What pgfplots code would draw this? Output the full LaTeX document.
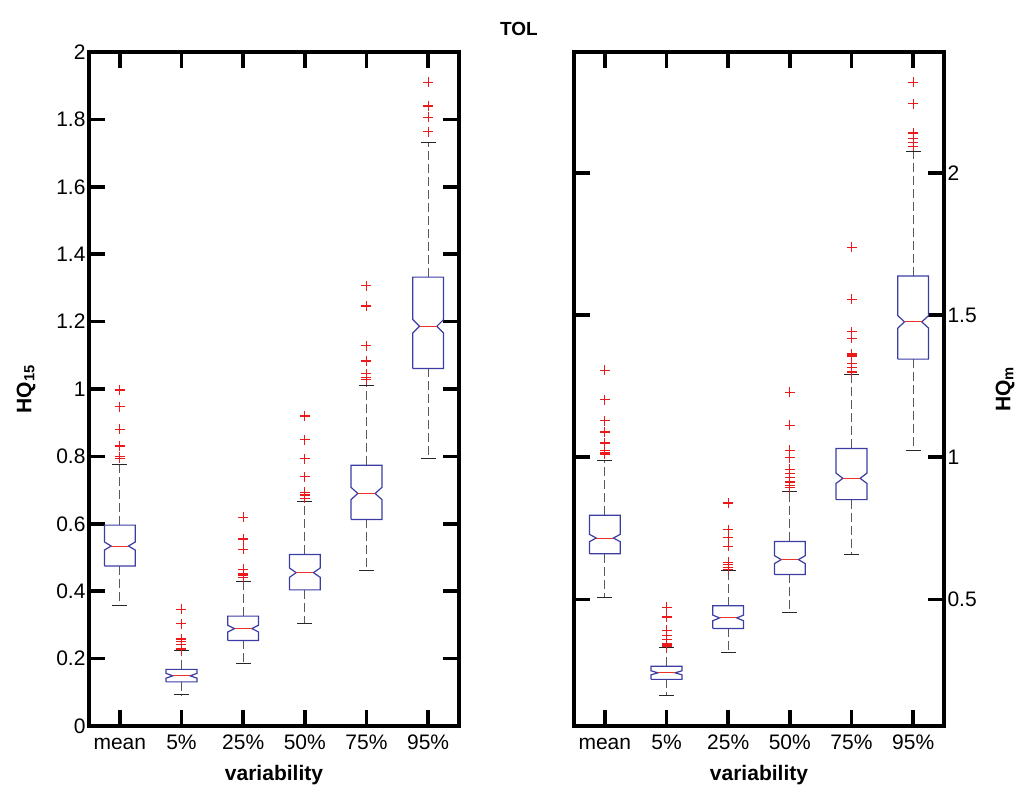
\documentclass[border=0pt]{standalone}
\usepackage{fontspec}
\setmainfont{Liberation Sans}
\usepackage{pgfplots}
\pgfplotsset{compat=1.18}
\definecolor{boxc}{RGB}{60,60,165}
\definecolor{medc}{RGB}{235,50,40}
\definecolor{outc}{RGB}{235,25,25}
\newcommand\nbox[7]{% x, lower whisker, q1, median, q3, upper whisker, notch
 \pgfmathsetmacro\xa{#1-0.25}\pgfmathsetmacro\xb{#1+0.25}%
 \pgfmathsetmacro\xn{#1-0.14}\pgfmathsetmacro\xm{#1+0.14}%
 \pgfmathsetmacro\nlo{#4-#7}\pgfmathsetmacro\nhi{#4+#7}%
 \pgfmathsetmacro\ca{#1-0.12}\pgfmathsetmacro\cb{#1+0.12}%
 \edef\temp{%
 \noexpand\addplot[whisk] coordinates {(#1,#5) (#1,#6)};
 \noexpand\addplot[whisk] coordinates {(#1,#3) (#1,#2)};
 \noexpand\addplot[capst] coordinates {(\ca,#6) (\cb,#6)};
 \noexpand\addplot[capst] coordinates {(\ca,#2) (\cb,#2)};
 \noexpand\addplot[boxst] coordinates {(\xa,#3) (\xb,#3) (\xb,\nlo) (\xm,#4) (\xb,\nhi) (\xb,#5) (\xa,#5) (\xa,\nhi) (\xn,#4) (\xa,\nlo) (\xa,#3)};
 \noexpand\addplot[medst] coordinates {(\xn,#4) (\xm,#4)};
 }\temp}
\pgfplotsset{
 whisk/.style={black!65, line width=1pt, dash pattern=on 9pt off 4pt, mark=none},
 capst/.style={black!85, line width=1pt, mark=none},
 boxst/.style={boxc, line width=1.2pt, mark=none},
 medst/.style={medc, line width=1pt, mark=none},
 outst/.style={only marks, mark=+, mark size=5pt, draw=outc, color=outc, mark options={solid, draw=outc, line width=1.2pt}},
 panel/.style={
  scale only axis, width=370pt, height=674pt,
  xmin=0.5, xmax=6.5,
  xtick={1,2,3,4,5,6},
  xticklabels={mean,5\%,25\%,50\%,75\%,95\%},
  tick pos=both, tick align=inside,
  major tick length=16pt,
  every tick/.append style={black, line width=3.5pt},
  axis line style={line width=3.5pt},
  tick label style={font=\fontsize{21}{25}\selectfont},
  xticklabel style={text height=15pt, text depth=5pt, yshift=-5pt},
  /pgf/number format/assume math mode=true,
  xlabel={variability},
  xlabel style={font=\fontsize{21}{25}\selectfont\bfseries, yshift=-4pt},
  ylabel style={font=\fontsize{21}{25}\selectfont\bfseries, anchor=center},
  clip=false,
 },
}
\begin{document}
\begin{tikzpicture}
\path[use as bounding box] (0pt,0pt) rectangle (1026pt,790pt);
\node[font=\fontsize{19}{23}\selectfont\bfseries] at (519pt,761pt) {TOL};
% left panel
\begin{axis}[panel, at={(89pt,64pt)}, anchor=south west,
  ymin=0, ymax=2, ytick={0,0.2,0.4,0.6,0.8,1,1.2,1.4,1.6,1.8,2},
  ylabel={HQ\textsubscript{15}},
  ylabel style={at={(axis description cs:-0.170,0.5)}}]
\nbox{1}{0.359}{0.475}{0.534}{0.596}{0.776}{0.012}
\nbox{2}{0.092}{0.131}{0.149}{0.168}{0.225}{0.007}
\nbox{3}{0.185}{0.254}{0.289}{0.326}{0.428}{0.010}
\nbox{4}{0.303}{0.404}{0.455}{0.509}{0.666}{0.014}
\nbox{5}{0.461}{0.613}{0.690}{0.774}{1.009}{0.018}
\nbox{6}{0.793}{1.061}{1.186}{1.332}{1.731}{0.020}
\addplot[outst] coordinates {
 (1,0.997) (1,0.948) (1,0.880) (1,0.831) (1,0.799) (1,0.794)
 (2,0.346) (2,0.303) (2,0.258) (2,0.250) (2,0.243) (2,0.230) (2,0.226)
 (3,0.619) (3,0.555) (3,0.524) (3,0.465) (3,0.453) (3,0.448) (3,0.441)
 (4,0.920) (4,0.849) (4,0.793) (4,0.740) (4,0.693) (4,0.688) (4,0.683) (4,0.676)
 (5,1.307) (5,1.246) (5,1.128) (5,1.083) (5,1.045) (5,1.035) (5,1.027)
 (6,1.910) (6,1.840) (6,1.806) (6,1.764)
};
\end{axis}
% right panel
\begin{axis}[panel, at={(574pt,64pt)}, anchor=south west,
  ymin=0.055, ymax=2.425, ytick={0.5,1,1.5,2},
  yticklabel pos=right,
  ylabel={HQ\textsubscript{m}},
  ylabel style={at={(axis description cs:1.165,0.5)}}]
\nbox{1}{0.506}{0.661}{0.716}{0.796}{0.990}{0.013}
\nbox{2}{0.162}{0.219}{0.242}{0.265}{0.332}{0.007}
\nbox{3}{0.313}{0.398}{0.435}{0.478}{0.602}{0.010}
\nbox{4}{0.453}{0.588}{0.640}{0.704}{0.881}{0.014}
\nbox{5}{0.658}{0.851}{0.926}{1.031}{1.292}{0.018}
\nbox{6}{1.025}{1.345}{1.476}{1.637}{2.075}{0.022}
\addplot[outst] coordinates {
 (1,1.306) (1,1.203) (1,1.128) (1,1.089) (1,1.050) (1,1.025) (1,1.015) (1,1.011)
 (2,0.473) (2,0.438) (2,0.391) (2,0.373) (2,0.358) (2,0.346) (2,0.340) (2,0.336) (2,0.334)
 (3,0.839) (3,0.745) (3,0.717) (3,0.687) (3,0.631) (3,0.622) (3,0.612) (3,0.606)
 (4,1.229) (4,1.113) (4,1.025) (4,0.998) (4,0.957) (4,0.943) (4,0.929) (4,0.913) (4,0.901) (4,0.893)
 (5,1.738) (5,1.556) (5,1.441) (5,1.418) (5,1.363) (5,1.356) (5,1.330) (5,1.316) (5,1.300)
 (6,2.319) (6,2.243) (6,2.140) (6,2.122) (6,2.107) (6,2.093)
};
\end{axis}
\end{tikzpicture}
\end{document}
